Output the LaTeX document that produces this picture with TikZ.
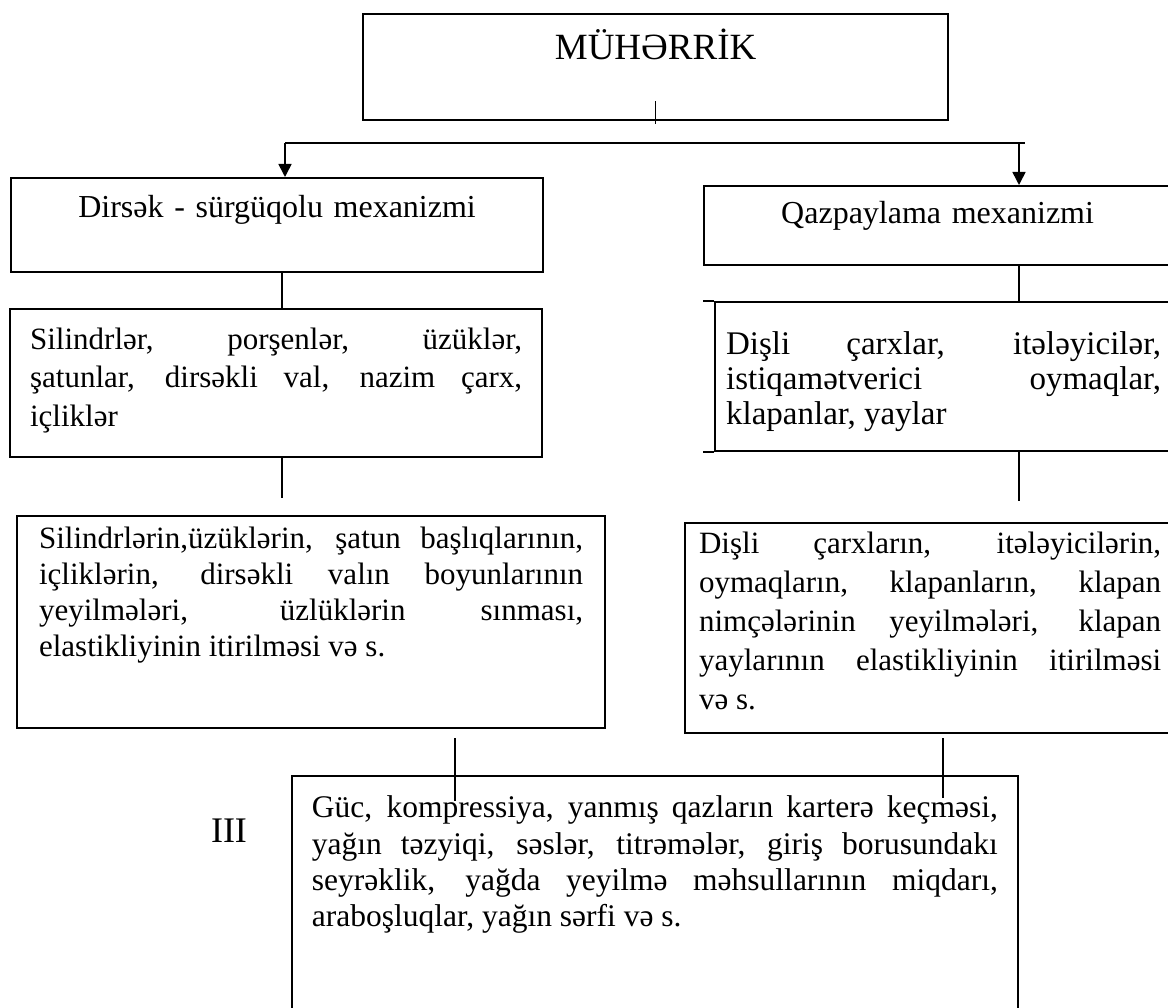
\documentclass[tikz,border=0pt]{standalone}
\usepackage{fontspec}
\setmainfont{Liberation Serif}
\usetikzlibrary{arrows.meta}
\tolerance=10000 % let the forced lines stretch
\hbadness=10000
\tikzset{
>={Triangle[length=13pt,width=13pt]}, % filled arrow heads
box/.style={draw, line width=2.2pt, anchor=north west, inner ysep=0pt}, % framed text block
link/.style={line width=1.6pt}, % plain connector
bar/.style={line width=2.6pt}, % distribution line
}

\begin{document}
\begin{tikzpicture}[x=1pt,y=-1pt]
  \useasboundingbox (0,0) rectangle (1168,1008);

  % engine and its two mechanisms
  \node[box, inner xsep=10pt, text width=565pt, text height=45pt, text depth=61pt, align=center, font=\fontsize{37}{44}\selectfont] (mot) at (362,13) {MÜHƏRRİK};
  \node[box, inner xsep=10pt, text width=512pt, text height=39pt, text depth=55pt, align=center, font=\fontsize{32}{38}\selectfont] (dsm) at (10,177) {Dirsək - sürgüqolu mexanizmi};
  \node[box, inner xsep=10pt, text width=447pt, text height=37pt, text depth=42pt, align=center, font=\fontsize{32}{38}\selectfont] (qzm) at (703,185) {Qazpaylama mexanizmi};

  % parts
  \node[box, inner xsep=20pt, text width=492pt, text height=40pt, text depth=108pt, align=justify, font=\fontsize{31}{38.5}\selectfont] (sil) at (9,308)
  {Silindrlər, porşenlər, üzüklər,\linebreak şatunlar, dirsəkli val, nazim çarx,\linebreak içliklər};
  \node[box, inner xsep=11pt, text width=435pt, text height=52pt, text depth=97pt, align=justify, font=\fontsize{33}{35}\selectfont] (dis) at (714,301)
  {Dişli çarxlar, itələyicilər,\linebreak istiqamətverici oymaqlar,\linebreak klapanlar, yaylar};
  \draw[line width=2.2pt] (dis.north west) -- ++(-11,0) (dis.south west) -- ++(-11,0);

  % wear
  \node[box, inner xsep=22pt, text width=544pt, text height=32pt, text depth=180pt, align=justify, font=\fontsize{31}{36}\selectfont] (yeyL) at (16,515)
  {Silindrlərin,üzüklərin, şatun başlıqlarının,\linebreak içliklərin, dirsəkli valın boyunlarının\linebreak yeyilmələri, üzlüklərin sınması,\linebreak elastikliyinin itirilməsi və s.};
  \node[box, inner xsep=14pt, text width=462pt, text height=30pt, text depth=180pt, align=justify, font=\fontsize{31}{39}\selectfont] (yeyR) at (684,522)
  {Dişli çarxların, itələyicilərin,\linebreak oymaqların, klapanların, klapan\linebreak nimçələrinin yeyilmələri, klapan\linebreak yaylarının elastikliyinin itirilməsi\linebreak və s.};

  % symptoms
  \node[box, line width=1.8pt, inner xsep=20pt, text width=686pt, text height=42pt, text depth=198pt, align=justify, font=\fontsize{31.5}{36.3}\selectfont] (guc) at (291,775)
  {Güc, kompressiya, yanmış qazların karterə keçməsi,\linebreak yağın təzyiqi, səslər, titrəmələr, giriş borusundakı\linebreak seyrəklik, yağda yeyilmə məhsullarının miqdarı,\linebreak araboşluqlar, yağın sərfi və s.};
  \node[anchor=base, font=\fontsize{36}{40}\selectfont] (num) at (229,842) {III};

  % connectors
  \coordinate (barL) at (285,143);
  \coordinate (barQ) at (1019,143);
  \coordinate (barR) at (1025,143);
  \coordinate (colL) at (282,0);
  \coordinate (colR) at (1019,0);
  \coordinate (stubL) at (282,498);
  \coordinate (stubR) at (1019,501);
  \coordinate (inL) at (455,801);
  \coordinate (inR) at (943,798);

  \draw[link] ([yshift=20pt]mot.south) -- ([yshift=-3pt]mot.south);
  \draw[bar] (barL) -- (barR);
  \draw[link,->] (barL) -- (barL |- dsm.north);
  \draw[link,->] (barQ) -- (barQ |- qzm.north);
  \draw[link] (colL |- dsm.south) -- (colL |- sil.north);
  \draw[link] (colR |- qzm.south) -- (colR |- dis.north);
  \draw[link] (colL |- sil.south) -- (stubL);
  \draw[link] (colR |- dis.south) -- (stubR);
  \draw[link] ([yshift=-9pt]inL |- yeyL.south) -- (inL);
  \draw[link] ([yshift=-4pt]inR |- yeyR.south) -- (inR);
\end{tikzpicture}
\end{document}
